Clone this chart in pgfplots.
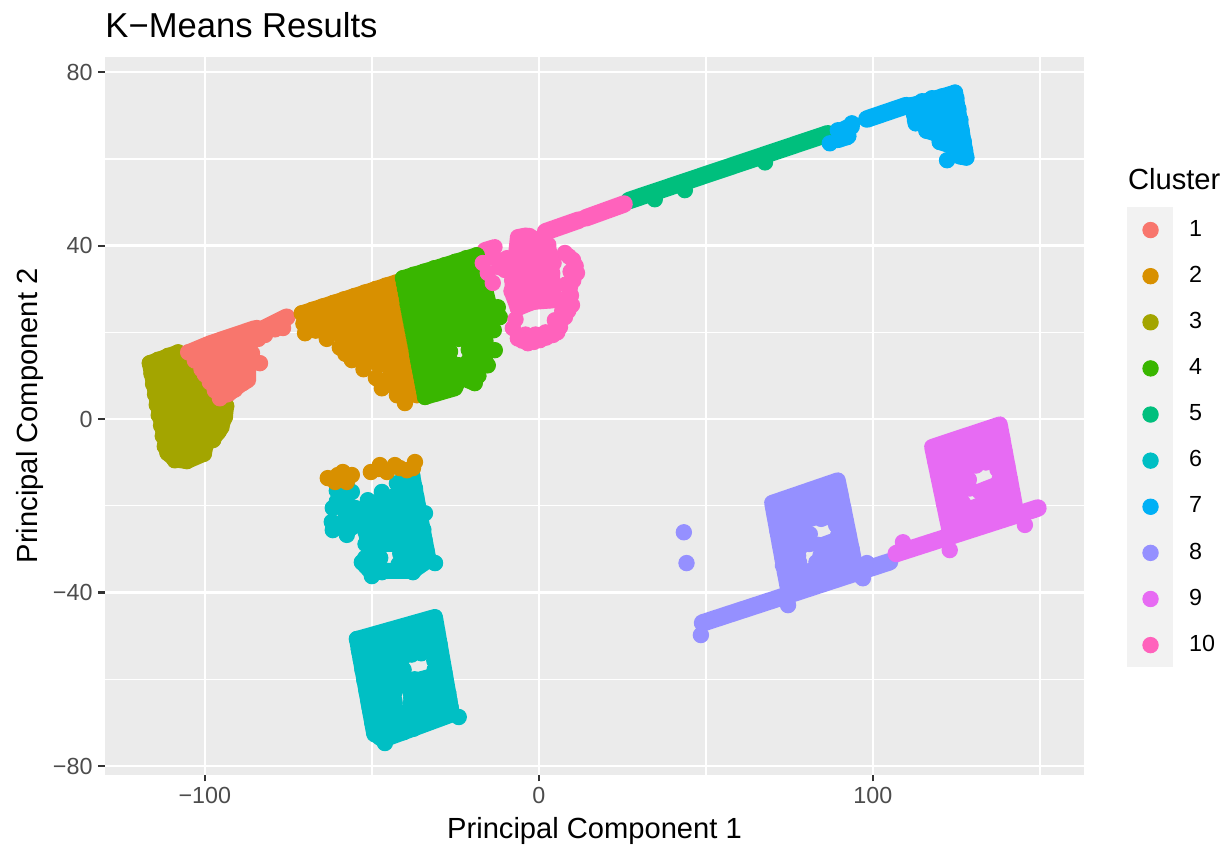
\documentclass[border=0pt]{standalone}
\usepackage{fontspec}
\setmainfont{Liberation Sans}
\usepackage{pgfplots}
\pgfplotsset{compat=1.18}
\definecolor{c1}{HTML}{F8766D}
\definecolor{c2}{HTML}{D89000}
\definecolor{c3}{HTML}{A3A500}
\definecolor{c4}{HTML}{39B600}
\definecolor{c5}{HTML}{00BF7D}
\definecolor{c6}{HTML}{00BFC4}
\definecolor{c7}{HTML}{00B0F6}
\definecolor{c8}{HTML}{9590FF}
\definecolor{c9}{HTML}{E76BF3}
\definecolor{c10}{HTML}{FF62BC}
\pgfplotsset{
  pts/.style={only marks, mark=*, mark size=3.17pt, color=#1, mark options={draw=none, fill=#1}},
  cl/.style={pts=#1, forget plot},
  run/.style={no markers, sharp plot, line width=6.5pt, line cap=round, line join=round, color=#1, forget plot},
  band/.style={run=#1, line width=7.2pt},
  key/.style={pts=#1, legend image code/.code={\path (-9.47pt,0pt) (9.47pt,0pt); \draw[##1] plot coordinates {(0pt,0pt)};}},
}
\begin{document}
\begin{tikzpicture}
\path[use as bounding box] (-43.26pt,-28.96pt) rectangle (462.68pt,319.18pt);
\fill[black!5] (421.1pt,44.4pt) rectangle (440pt,233.9pt);
\node[anchor=base west, inner sep=0pt, font=\fontsize{12}{14}\selectfont] at (421.3pt,241.3pt) {Cluster};
\begin{axis}[
  scale only axis,
  width=403.35pt, height=295.7pt,
  xmin=-129.9, xmax=163.2, ymin=-82, ymax=83.5,
  axis background/.style={fill=black!8},
  axis line style={draw=none},
  xtick={-100,0,100}, xticklabels={−100,0,100},
  ytick={-80,-40,0,40,80}, yticklabels={−80,−40,0,40,80},
  minor xtick={-50,50,150}, minor ytick={-60,-20,20,60},
  xtick pos=bottom, ytick pos=left,
  tick align=outside,
  major tick length=2.75pt, minor tick length=0pt,
  major tick style={draw=black!80, line width=0.9pt},
  grid=both,
  major grid style={white, line width=1.07pt},
  minor grid style={white, line width=0.53pt},
  tick label style={font=\fontsize{9.6}{11}\selectfont, text=black!70},
  xticklabel style={inner sep=2.2pt},
  yticklabel style={inner sep=2.2pt},
  title={K−Means Results},
  title style={at={(axis description cs:0,1)}, anchor=base west, inner sep=0pt, yshift=1.9pt, font=\fontsize{14.25}{17}\selectfont},
  xlabel={Principal Component 1},
  xlabel style={at={(axis description cs:0.5,0)}, anchor=base, inner sep=0pt, yshift=-26.1pt, font=\fontsize{12}{14}\selectfont},
  ylabel={Principal Component 2},
  ylabel style={at={(axis description cs:0,0.5)}, anchor=base, inner sep=0pt, yshift=27.7pt, font=\fontsize{12}{14}\selectfont},
  legend style={at={(axis description cs:1.044,0.791)}, anchor=north west, draw=none, fill=none, inner sep=0pt, outer sep=0pt, row sep=0pt,
    font=\fontsize{9.6}{11}\selectfont,
    nodes={inner sep=0pt, minimum height=19pt},
    /tikz/every odd column/.append style={column sep=6.2pt}},
  legend cell align=left,
]
\addlegendimage{key=c1}\addlegendentry{1}
\addlegendimage{key=c2}\addlegendentry{2}
\addlegendimage{key=c3}\addlegendentry{3}
\addlegendimage{key=c4}\addlegendentry{4}
\addlegendimage{key=c5}\addlegendentry{5}
\addlegendimage{key=c6}\addlegendentry{6}
\addlegendimage{key=c7}\addlegendentry{7}
\addlegendimage{key=c8}\addlegendentry{8}
\addlegendimage{key=c9}\addlegendentry{9}
\addlegendimage{key=c10}\addlegendentry{10}

% cluster 7
\addplot[cl=c7] coordinates {(87.1,63.6)(92.2,65)(89.5,66.6)(93.7,68.2)(91,66.5)(90,65.5)(92,66.5)
(111.7,72.4)(112.3,70.2)(112.8,68.2)(114.7,73.3)(115.2,71)(115.6,68.8)(116,66.5)
(117.7,74)(118.3,71.8)(118.8,69.5)(119.3,67.2)(119.8,65)(120,63.9)
(120.7,74.4)(121.3,72)(121.9,69.7)(122.5,67.4)(123,65)(123.5,63)(122.2,59.7)
(123.7,75)(124.3,72.7)(124.8,70.4)(125.3,68)(125.8,65.7)(126.3,63.4)(126.8,61)(127,60.5)
(124.6,75.3)(125,74)(125.6,71.5)(126.2,69)(126.6,66.5)(127.2,64)(127.6,62)(128,60.3)};
\addplot[band=c7] coordinates {(88,65.5)(93.5,67.5)};
\addplot[band=c7] coordinates {(89.5,64.5)(92.5,65.3)};
\addplot[band=c7] coordinates {(98.2,69.2)(110,72.3)};
\addplot[run=c7] coordinates {(111.7,72.4)(124.6,75.3)(128,60.3)(126,60.5)};
\addplot[run=c7] coordinates {(111.7,72.4)(125,73)};
\addplot[run=c7] coordinates {(112.5,69)(126,67)};
\addplot[run=c7] coordinates {(116,66.5)(126.5,64)};
\addplot[run=c7] coordinates {(120,63.9)(127.3,62)};
% cluster 5
\addplot[cl=c5] coordinates {(34.7,50.7)(43.7,52.8)(67.7,59.2)};
\addplot[band=c5] coordinates {(27,50.4)(86.5,65.8)};
% cluster 6
\addplot[cl=c6] coordinates {(-60.5,-16.5)(-57.5,-15.5)(-60.5,-19)(-57.5,-19)(-56,-16.8)(-61.7,-20.5)(-58,-21.5)(-55,-20.5)(-62,-23.7)(-59,-24)(-55.5,-23)(-61.7,-25.6)(-57.5,-26.7)(-56,-25)
(-52.5,-22)(-52,-24.5)(-51.5,-27)(-51,-29.5)(-52,-32)(-53,-33)(-51.2,-18.7)
(-49.5,-19.5)(-49,-22)(-48.5,-24.5)(-48,-27)(-47.5,-29.5)(-47.5,-32)(-50,-34)(-50,-36.2)
(-47,-16.8)(-46,-20.5)(-45.5,-23)(-45,-25.5)(-44.5,-28)(-47,-35.3)(-45.5,-35)
(-42.5,-14.8)(-42.8,-18.5)(-42.5,-21)(-42,-23.5)(-41.5,-26)(-41,-28.5)(-41.5,-31)(-42,-33.5)(-42,-34.8)
(-40.7,-13.8)(-40.1,-16.3)(-39.5,-18.8)(-38.9,-21.3)(-38.2,-23.8)(-37.6,-26.3)(-37,-28.8)(-36.4,-31.3)(-36,-33.5)(-37.7,-35.3)
(-37.9,-13)(-37.3,-15.5)(-36.7,-18)(-36.1,-20.5)(-35.4,-23)(-34.8,-25.5)(-34.2,-28)(-33.6,-30.5)(-33,-32.5)(-31.1,-33.2)(-34.1,-21.7)
(-54.5,-50.7)(-53.9,-53.1)(-53.3,-55.5)(-52.8,-57.9)(-52.2,-60.3)(-51.6,-62.7)(-51,-65.1)(-50.4,-67.5)(-49.9,-69.9)(-49.3,-72.3)
(-46.1,-74.7)(-47.5,-73.5)(-43.5,-72.8)(-40.5,-72.2)
(-41,-55.4)(-40.5,-57.8)(-39.9,-60.2)(-39,-62)(-38.2,-64.3)(-38.2,-66.5)(-38,-69)(-37.5,-71.4)
(-38.1,-54.3)(-37.2,-60)(-36.6,-62.4)(-36,-64.8)(-35.2,-54)(-34.2,-60.8)(-33.6,-63.2)
(-43.2,-63)(-43.2,-65.5)(-31.3,-55.7)(-31.2,-57.8)(-30.6,-60.2)(-24,-68.7)};
\addplot[run=c6] coordinates {(-37.9,-13)(-33,-32.5)(-31.1,-33.2)};
\addplot[run=c6] coordinates {(-49.5,-19.5)(-37,-16)};
\addplot[run=c6] coordinates {(-52.5,-23)(-35.5,-21.5)};
\addplot[run=c6] coordinates {(-52,-26)(-34.5,-25.5)};
\addplot[run=c6] coordinates {(-52,-28.8)(-35,-28.8)};
\addplot[run=c6] coordinates {(-51,-31.5)(-48.5,-32.5)};
\addplot[run=c6] coordinates {(-40,-32.5)(-33,-32.5)};
\addplot[run=c6] coordinates {(-53,-33)(-50,-35.5)(-47,-35)(-37.7,-35)(-33,-32.5)};
\addplot[run=c6] coordinates {(-54.5,-50.7)(-31.1,-45.6)(-26,-68.1)(-46.1,-73.8)(-49.3,-72.7)(-54.5,-50.7)};
\addplot[run=c6] coordinates {(-53.8,-53.8)(-30.4,-48.8)};
\addplot[run=c6] coordinates {(-53,-57)(-29.6,-52)};
\addplot[run=c6] coordinates {(-52.3,-60.1)(-41,-57.8)};
\addplot[run=c6] coordinates {(-51.5,-63.3)(-28.2,-58.5)};
\addplot[run=c6] coordinates {(-50.8,-66.4)(-43.2,-64.8)};
\addplot[run=c6] coordinates {(-38.3,-63.7)(-27.5,-61.7)};
\addplot[run=c6] coordinates {(-38.5,-65.6)(-27,-63.3)};
\addplot[run=c6] coordinates {(-50,-69.6)(-26.7,-64.9)};
\addplot[run=c6] coordinates {(-49.6,-71)(-26.3,-66.5)};
% cluster 2
\addplot[cl=c2] coordinates {(-63.2,-13.6)(-60.2,-12.9)(-58.7,-12.2)(-56,-12.9)(-57.5,-14.5)(-61,-14.5)(-50.3,-12.2)(-47.6,-10.6)(-45.5,-12.2)(-43.1,-10.6)(-39.5,-11.8)(-37.1,-9.9)(-37.7,-11.3)(-41.6,-11.3)(-48,-11.5)
(-71,24.4)(-70.5,22)(-70,19.8)(-67.85,25.2)(-67.3,22.8)(-66.8,20.4)
(-64.7,26)(-64.1,23.6)(-63.6,21.2)(-63.5,18.5)
(-61.5,26.8)(-61,24.4)(-60.4,22)(-59.8,19.6)(-59.6,16.5)
(-58.4,27.6)(-57.8,25.2)(-57.2,22.8)(-56.7,20.4)(-56.1,18)(-55.6,15.6)(-56,13.6)
(-55.2,28.4)(-54.7,26)(-54.1,23.6)(-53.5,21.2)(-52.9,18.8)(-52.3,16.4)(-51.8,14)(-52.5,11.5)
(-52.1,29.2)(-51.5,26.8)(-50.9,24.4)(-50.3,22)(-49.8,19.6)(-49.2,17.2)(-48.6,14.8)(-48,12.4)(-48.8,9.5)
(-48.9,30)(-48.4,27.6)(-47.8,25.2)(-47.2,22.8)(-46.6,20.4)(-46,18)(-45.5,15.6)(-44.9,13.2)(-44.3,10.8)(-44.7,8)(-47,7.1)
(-45.8,30.8)(-45.2,28.4)(-44.6,26)(-44.1,23.6)(-43.5,21.2)(-42.9,18.8)(-42.3,16.4)(-41.7,14)(-41.2,11.6)(-40.6,9.2)(-40,6.8)(-42.5,5.5)(-40.1,3.7)
(-42.6,31.5)(-42,29.1)(-41.5,26.7)(-40.9,24.3)(-40.3,21.9)(-39.7,19.5)(-39.1,17.1)(-38.6,14.7)(-38,12.3)(-37.4,9.9)(-36.8,7.5)(-36.5,5.5)};
\addplot[run=c2] coordinates {(-71,24.4)(-42.5,31.6)};
\addplot[run=c2] coordinates {(-71,24.4)(-40,24)};
\addplot[run=c2] coordinates {(-66,21)(-40,18)};
\addplot[run=c2] coordinates {(-58,15)(-40,12)};
\addplot[run=c2] coordinates {(-48,9)(-38,8)};
% cluster 3
\addplot[cl=c3] coordinates {(-116.5,12.9)(-116,10.5)(-115.5,8.1)(-114.9,5.7)(-114.4,3.3)(-113.8,0.9)(-113.1,-1.5)(-112.6,-3.9)(-112,-6.3)(-111.2,-7.8)
(-114,13.7)(-113.4,11.3)(-112.8,8.9)(-112.3,6.5)(-111.7,4.1)(-111.1,1.7)(-110.5,-0.7)(-110,-3.1)(-109.4,-5.5)(-109,-7.9)(-109,-9.5)
(-111,14.6)(-110.4,12.2)(-109.8,9.8)(-109.3,7.4)(-108.7,5)(-108.1,2.6)(-107.5,0.2)(-107,-2.2)(-106.4,-4.6)(-105.8,-7)(-105.4,-9.7)
(-108,15.4)(-107.4,13)(-106.8,10.6)(-106.3,8.2)(-105.7,5.8)(-105.1,3.4)(-104.5,1)(-104,-1.4)(-103.4,-3.8)(-102.8,-6.2)(-102.5,-8.5)
(-104.5,13.5)(-103.9,11.1)(-103.3,8.7)(-102.7,6.3)(-102.1,3.9)(-101.6,1.5)(-101,-0.9)(-100.4,-3.3)(-100,-5.7)(-100.3,-8)
(-100.5,9)(-99.9,6.6)(-99.3,4.2)(-98.8,1.8)(-98.2,-0.6)(-97.6,-3)(-97.5,-4.8)(-99.5,-5.2)
(-96.7,5)(-96.1,2.6)(-95.6,0.2)(-95,-1.8)(-94,0.5)(-93.6,3)(-96,-3)};
\addplot[run=c3] coordinates {(-108,15.4)(-116.5,12.9)(-111.2,-7.8)(-109,-9.3)(-105.4,-9.7)(-100.3,-8)(-99.5,-5.2)};
\addplot[run=c3] coordinates {(-98,-5)(-95.5,-2.5)};
\addplot[run=c3] coordinates {(-94.8,-1)(-94,0.5)(-93.6,3)};
% cluster 1
\addplot[cl=c1] coordinates {(-105,15.4)(-103,13.5)(-102,16.2)(-101.5,13.8)(-101,11.5)(-100,10.3)(-98.5,8.5)(-97,6.6)
(-99,17)(-98.5,14.6)(-98,12.2)(-97.5,9.8)(-97,7.5)
(-96,17.7)(-95.4,15.3)(-94.9,12.9)(-94.3,10.5)(-93.7,8.1)(-95.5,4.8)(-95,6.5)(-93.3,5.7)
(-93,18.5)(-92.4,16.1)(-91.9,13.7)(-91.3,11.3)(-90.7,8.9)(-91,6.8)
(-90,19.2)(-89.4,16.8)(-88.9,14.4)(-88.3,12)(-88,9.5)(-88.6,8.3)
(-87,20)(-86.4,17.6)(-85.9,15.2)(-87,12.5)
(-84.4,21)(-84,18.5)(-83.5,12.9)(-82,19.4)(-76.6,21)(-79,20.7)};
\addplot[run=c1] coordinates {(-105,15.4)(-98.5,17.5)(-85,21)(-87,18)(-87,9)(-88.6,8.3)(-91,7)(-93.3,5.5)(-95.5,4.6)};
\addplot[run=c1] coordinates {(-100,14.5)(-87,16)};
\addplot[run=c1] coordinates {(-98,11)(-87,12)};
\addplot[run=c1] coordinates {(-96,8)(-88,9)};
\addplot[band=c1] coordinates {(-82,21)(-75.5,23.5)};
% cluster 4
\addplot[cl=c4] coordinates {(-40.7,32.5)(-40.1,30.1)(-39.5,27.7)(-39,25.3)(-38.4,22.9)(-37.8,20.5)(-37.2,18.1)(-36.6,15.7)(-36.1,13.3)(-35.5,10.9)(-34.9,8.5)(-34.3,6.1)(-34.1,5.1)
(-40.4,31.3)(-39.8,28.9)(-39.3,26.5)(-38.7,24.1)(-38.1,21.7)(-37.5,19.3)(-36.9,16.9)(-36.4,14.5)(-35.8,12.1)(-35.2,9.7)(-34.6,7.3)
(-37.5,33.3)(-37,30.9)(-36.4,28.5)(-35.8,26.1)(-35.2,23.7)(-34.6,21.3)(-34.1,18.9)(-33.5,16.5)(-32.9,14.1)(-32.3,11.7)(-31.7,9.3)(-31.2,6.9)(-30.8,5.9)
(-34.4,34)(-33.8,31.6)(-33.2,29.2)(-32.7,26.8)(-32.1,24.4)(-31.5,22)(-30.9,19.6)(-30.3,17.2)(-29.8,14.8)(-29.2,12.4)(-28.6,10)(-28,7.6)
(-31.3,34.8)(-30.7,32.4)(-30.1,30)(-29.5,27.6)(-29,25.2)(-28.4,22.8)(-27.8,20.4)(-27.2,18)(-26.6,15.6)(-26.3,13.2)(-25.5,10.8)(-24.9,8.4)
(-28.1,35.5)(-27.5,33.1)(-27,30.7)(-26.4,28.3)(-25.8,25.9)(-25.2,23.5)(-24.6,21.1)(-24,18.5)(-24.5,12)(-23.7,9.7)(-22,10)
(-25,36.3)(-24.4,33.9)(-23.8,31.5)(-23.2,29.1)(-22.6,26.7)(-22.1,24.3)(-21.5,21.9)(-20.9,19.5)(-21,16)(-21,13.5)
(-21.8,37.1)(-21.2,34.7)(-20.6,32.3)(-20,29.9)(-19.5,27.5)(-18.9,25.1)(-18.3,22.7)(-17.7,20.3)(-17.1,17.9)
(-18.6,37.8)(-18,35.4)(-17.4,33)(-16.9,30.6)(-16.3,28.2)(-15.7,25.8)(-15.1,23.4)(-14.5,21)
(-12.3,25.8)(-11.7,23.5)(-13.5,20.5)(-13.2,15.9)(-15.3,12.4)(-19.2,8.3)(-17,16)(-18,13.5)(-21,10.5)(-18,19)(-16,18)(-19,16)};
\addplot[run=c4] coordinates {(-40.7,32.5)(-18.6,37.8)(-14.5,25)};
\addplot[run=c4] coordinates {(-34.1,5.1)(-25.1,7.1)(-23.7,9.7)(-19.2,8.3)};
\addplot[run=c4] coordinates {(-28,18)(-15,21.5)};
\addplot[run=c4] coordinates {(-21,13.5)(-16,13.5)};
\addplot[run=c4] coordinates {(-24,12.5)(-18,10)};
% cluster 10
\addplot[cl=c10] coordinates {(-7.8,21)(-6.3,18.6)(-5,18.1)(-3.3,17.5)(-1.5,17.8)(0.3,18.2)(2.2,18.8)(4.2,19.4)(5.5,20)(6.3,21.2)(4.8,22.8)(7.8,23.5)(8.8,25)(9.9,26.3)(9.6,28.5)(9.3,30.4)(10.3,32)(11.4,33.7)(11,35.3)(10.2,36.7)(9,37.5)(7.8,38.3)
(-7,23)(-4,19.5)(-1,19.5)(2,20)(5,21.5)(7,25)(8.5,28)(8,31)(9.5,34)
(-6.3,25.6)(-1.8,27)(3.3,27.4)
(-5.7,41.7)(-6.3,39.2)(-6.9,36.8)(-7.5,34.4)(-8,32)(-8.2,29.5)
(-2.8,42.2)(-3.4,39.9)(-4,37.5)(-4.6,35.1)(-5.2,32.7)(-5.6,30.3)(-6,28)
(0,41)(-0.5,38.6)(-1.1,36.2)(-1.7,33.8)(-2.3,31.4)(-2.8,29)
(2.8,40.2)(2.2,37.8)(1.6,35.4)(1,33)(0.5,30.6)(0,28.5)
(4.4,36)(4,33.6)(3.6,31)(3.2,28.6)
(-16.8,36)(-15.3,33.7)(-13.8,31.4)(-11.7,35)(-13,37)(-9.6,37.1)(-10.2,34.4)};
\addplot[band=c10] coordinates {(2,43.2)(12,45.9)};
\addplot[band=c10] coordinates {(14,46.4)(25.5,49.6)};
\addplot[run=c10] coordinates {(-16.2,39)(-13.2,39.7)};
\addplot[run=c10] coordinates {(-6.3,42)(-3.6,42.4)(2.7,40.1)(3.3,37.8)(3.9,33.7)(4.5,27.4)(-1.8,27)(-6.3,25.6)(-8.1,29.3)(-6.3,42)};
% cluster 8
\addplot[cl=c8] coordinates {(43.4,-26.1)(44.2,-33.2)(48.5,-49.8)(74.6,-42.9)(97,-36.7)(96,-36)(98.2,-33.2)
(77.2,-25)(77.8,-27.4)(78.4,-29.4)(77.6,-31.5)(81.5,-35)(81,-28.8)(80.6,-26.6)(84.5,-23)(85.6,-22.7)(83.6,-29)(84.3,-31.5)(84.5,-33.7)(86.8,-30)(87.3,-32.4)(89,-24.4)(89.6,-26.8)(90.2,-29.2)(90.8,-31.6)};
\addplot[band=c8] coordinates {(49,-47)(105,-32.9)};
\addplot[run=c8] coordinates {(69.8,-19.3)(89.5,-14.1)(94.5,-33.1)(74.4,-38.6)(69.8,-19.3)};
\addplot[run=c8] coordinates {(70.6,-22.5)(90.3,-17.3)};
\addplot[run=c8] coordinates {(71.3,-25.7)(91.2,-20.4)};
\addplot[run=c8] coordinates {(72.1,-29)(81.2,-26.5)};
\addplot[run=c8] coordinates {(89.5,-24.2)(92,-23.6)};
\addplot[run=c8] coordinates {(72.9,-32.2)(76.7,-31.1)};
\addplot[run=c8] coordinates {(73,-33.8)(78,-33)};
\addplot[run=c8] coordinates {(85,-29)(92.8,-26.8)};
\addplot[run=c8] coordinates {(83,-33)(92,-30.5)};
\addplot[run=c8] coordinates {(73.6,-35.4)(83,-35)(93.7,-29.9)};
% cluster 9
\addplot[cl=c9] coordinates {(109,-28.4)(123,-30.2)(145.5,-24.4)(148,-21)
(126.4,-17)(127,-19.4)(129,-16)(128.6,-13.8)(130.9,-10.7)(133.8,-10)(133.2,-16.5)(135,-18.5)(132.3,-20.2)(137.3,-11.6)(137.9,-14)(128.2,-21)(131,-21.5)};
\addplot[band=c9] coordinates {(107,-31)(149.4,-20.5)};
\addplot[run=c9] coordinates {(117.7,-6.4)(138,-1.2)(142.6,-20.2)(123,-26)(117.7,-6.4)};
\addplot[run=c9] coordinates {(118.6,-9.7)(138.8,-4.4)};
\addplot[run=c9] coordinates {(119.5,-12.9)(139.5,-7.5)};
\addplot[run=c9] coordinates {(120.4,-16.2)(128.8,-14)};
\addplot[run=c9] coordinates {(137.5,-11.4)(140.3,-10.7)};
\addplot[run=c9] coordinates {(121.2,-19.5)(125,-18.5)};
\addplot[run=c9] coordinates {(131.8,-16.7)(141.1,-13.9)};
\addplot[run=c9] coordinates {(122.1,-22.7)(141.8,-17)};
\end{axis}
\end{tikzpicture}
\end{document}
